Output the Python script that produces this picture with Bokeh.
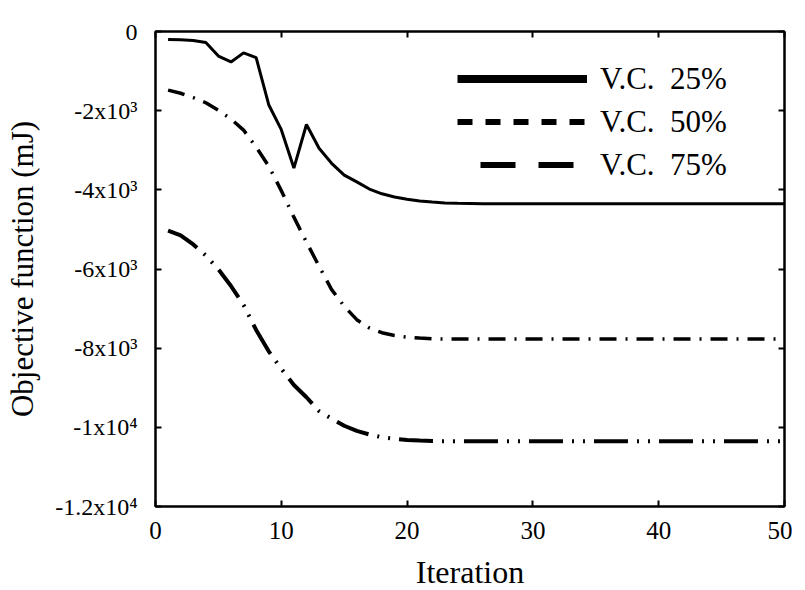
from bokeh.plotting import figure
from bokeh.models import (Range1d, FixedTicker, LinearAxis, Legend, LegendItem,
                          CustomJSTickFormatter)
from bokeh.embed import file_html
from bokeh.resources import INLINE

# ---------------- data ----------------
iterations = list(range(1, 51))

vc25 = [-200, -210, -230, -280, -620, -770, -540, -660, -1850, -2480,
        -3450, -2350, -2950, -3330, -3630, -3800, -3980, -4100, -4180, -4240,
        -4280, -4310, -4330, -4340, -4345,
        -4350, -4350, -4350, -4350, -4350, -4350, -4350, -4350, -4350, -4350,
        -4350, -4350, -4350, -4350, -4350, -4350, -4350, -4350, -4350, -4350,
        -4350, -4350, -4350, -4350, -4350]

vc50 = [-1480, -1560, -1670, -1800, -1990, -2210, -2490, -2920, -3400, -4020,
        -4690, -5320, -5930, -6520, -6940, -7280, -7490, -7610, -7680, -7720,
        -7745, -7760,
        -7770, -7770, -7770, -7770, -7770, -7770, -7770, -7770, -7770, -7770,
        -7770, -7770, -7770, -7770, -7770, -7770, -7770, -7770, -7770, -7770,
        -7770, -7770, -7770, -7770, -7770, -7770, -7770, -7770]

vc75 = [-5030, -5150, -5380, -5660, -6010, -6430, -6910, -7540, -8080, -8520,
        -8930, -9240, -9590, -9780, -9960, -10090, -10180, -10250, -10290, -10320,
        -10335, -10345,
        -10350, -10350, -10350, -10350, -10350, -10350, -10350, -10350, -10350, -10350,
        -10350, -10350, -10350, -10350, -10350, -10350, -10350, -10350, -10350, -10350,
        -10350, -10350, -10350, -10350, -10350, -10350, -10350, -10350]

series_labels = ["V.C. \u00a025%", "V.C. \u00a050%", "V.C. \u00a075%"]

x_ticks = [0, 10, 20, 30, 40, 50]
y_ticks = [0, -2000, -4000, -6000, -8000, -10000, -12000]
y_tick_labels = ["0", "-2x10\u00b3", "-4x10\u00b3", "-6x10\u00b3", "-8x10\u00b3",
                 "-1x10\u2074", "-1.2x10\u2074"]

FONT = "Liberation Serif"
NAN = float("nan")

# ---------------- figure ----------------
p = figure(frame_width=629, frame_height=475,
           x_range=Range1d(0, 50), y_range=Range1d(-12000, 0),
           output_backend="svg", toolbar_location=None,
           min_border_left=155, min_border_top=31, min_border_right=8,
           min_border_bottom=0, background_fill_color="white",
           border_fill_color="white", outline_line_color="black",
           outline_line_width=2)
p.xgrid.visible = False
p.ygrid.visible = False


def style_axis(ax, ticks):
    ax.ticker = FixedTicker(ticks=ticks)
    ax.axis_line_color = "black"
    ax.axis_line_width = 2
    ax.major_tick_line_color = "black"
    ax.major_tick_line_width = 2
    ax.major_tick_in = 6
    ax.major_tick_out = 0
    ax.minor_tick_line_color = None
    ax.major_label_text_font = FONT
    ax.major_label_text_color = "black"
    ax.axis_label_text_font = FONT
    ax.axis_label_text_font_style = "normal"
    ax.axis_label_text_color = "black"


xa = p.xaxis[0]
style_axis(xa, x_ticks)
xa.axis_label = "Iteration"
xa.axis_label_text_font_size = "32px"
xa.major_label_text_font_size = "25px"
xa.major_label_standoff = 15
xa.axis_label_standoff = 12

ya = p.yaxis[0]
style_axis(ya, y_ticks)
ya.axis_label = "Objective function (mJ)"
ya.axis_label_text_font_size = "31px"
ya.major_label_text_font_size = "24px"
ya.major_label_standoff = 18
ya.axis_label_standoff = 12
ya.major_label_overrides = {t: s for t, s in zip(y_ticks, y_tick_labels)}

blank = CustomJSTickFormatter(code="return '';")
top_ax = LinearAxis(formatter=blank)
style_axis(top_ax, x_ticks)
top_ax.major_label_text_font_size = "1px"
top_ax.major_label_standoff = 0
p.add_layout(top_ax, "above")

right_ax = LinearAxis(formatter=blank)
style_axis(right_ax, y_ticks)
right_ax.major_label_text_font_size = "1px"
right_ax.major_label_standoff = 0
p.add_layout(right_ax, "right")

# ---------------- data lines ----------------
p.line(iterations, vc25, line_color="black", line_width=3)
p.line(iterations, vc50, line_color="black", line_width=3.5,
       line_dash="17 9 2 9")
p.line(iterations, vc75, line_color="black", line_width=4,
       line_dash="34 9 2 9 2 9")

# legend-only glyphs (styles as drawn in the reference legend); no visible data
g25 = p.line(x=[NAN], y=[NAN], line_color="black", line_width=8)
g50 = p.line(x=[NAN], y=[NAN], line_color="black", line_width=6,
             line_dash="15 13")
g75 = p.line(x=[NAN], y=[NAN], line_color="black", line_width=6,
             line_dash="35 23", line_dash_offset=35)

legend = Legend(items=[LegendItem(label=series_labels[0], renderers=[g25]),
                       LegendItem(label=series_labels[1], renderers=[g50]),
                       LegendItem(label=series_labels[2], renderers=[g75])],
                location=(302, 320), orientation="vertical",
                glyph_width=130, glyph_height=43, label_height=43,
                label_standoff=13, spacing=0, padding=0, margin=0,
                label_text_font=FONT, label_text_font_size="31px",
                label_text_color="black",
                border_line_alpha=0, background_fill_alpha=0)
p.add_layout(legend)

open("out.html", "w").write(file_html(p, INLINE))
